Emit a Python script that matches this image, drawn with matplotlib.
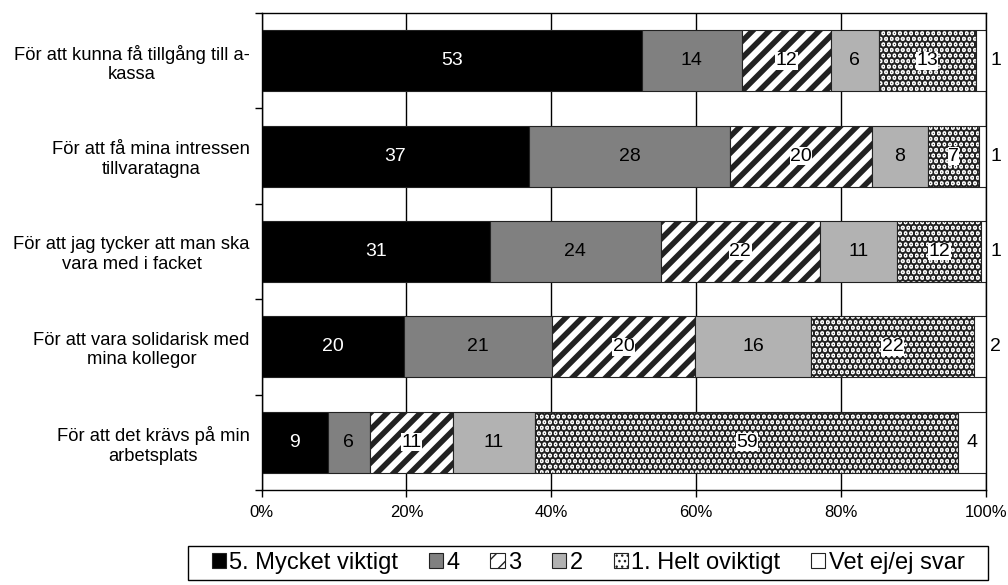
import matplotlib
matplotlib.use("Agg")
import matplotlib.pyplot as plt
from matplotlib.patches import Rectangle
import numpy as np

plt.rcParams["font.family"] = ["Liberation Sans", "DejaVu Sans"]

# kategorier, uppifrån och ned
categories = [
    "För att kunna få tillgång till a-\nkassa",
    "För att få mina intressen\ntillvaratagna",
    "För att jag tycker att man ska\nvara med i facket",
    "För att vara solidarisk med\nmina kollegor",
    "För att det krävs på min\narbetsplats",
]
series = ["5. Mycket viktigt", "4", "3", "2", "1. Helt oviktigt", "Vet ej/ej svar"]

# andelar (%), per svarsalternativ
mycket_viktigt = [52.5, 36.9, 31.5, 19.7, 9.1]
fyra = [13.8, 27.8, 23.6, 20.4, 5.8]
tre = [12.3, 19.6, 22.0, 19.8, 11.5]
tva = [6.6, 7.7, 10.7, 16.0, 11.4]
helt_oviktigt = [13.4, 7.1, 11.6, 22.5, 58.4]
vet_ej = [1.4, 0.9, 0.6, 1.7, 3.8]

# etiketter som visas i staplarna
labels = [
    [53, 37, 31, 20, 9],
    [14, 28, 24, 21, 6],
    [12, 20, 22, 20, 11],
    [6, 8, 11, 16, 11],
    [13, 7, 12, 22, 59],
    [1, 1, 1, 2, 4],
]

values = [mycket_viktigt, fyra, tre, tva, helt_oviktigt, vet_ej]
styles = [
    dict(color="#000000", hatch=None, txt="white", box=False),
    dict(color="#808080", hatch=None, txt="black", box=False),
    dict(color="white", hatch="//", txt="black", box=True, hlw=4.0),
    dict(color="#b2b2b2", hatch=None, txt="black", box=False),
    dict(color="white", hatch="...", txt="black", box=True, hlw=4.0),
    dict(color="white", hatch=None, txt="black", box=False),
]

fig = plt.figure(figsize=(10.08, 5.85), dpi=100)
ax = fig.add_axes([0.2596, 0.1624, 0.9779 - 0.2596, 0.9778 - 0.1624])

y = np.arange(len(categories))
left = np.zeros(len(categories))
ax.set_axisbelow(True)
ax.grid(axis="x", color="black", lw=1.0)

handles = []
for vals, st, labs, name in zip(values, styles, labels, series):
    vals = np.array(vals)
    with plt.rc_context({"hatch.linewidth": st.get("hlw", 1.0), "hatch.color": "black"}):
        bars = ax.barh(y, vals, left=left, height=0.64, color=st["color"],
                       edgecolor="#222222", linewidth=0.8, hatch=st["hatch"],
                       label=name, zorder=2)
    handles.append(bars)
    for yi, (l, v, lab) in enumerate(zip(left, vals, labs)):
        if v < 3:
            ax.text(100.6, yi, str(lab), ha="left", va="center", fontsize=14,
                    color=st["txt"], clip_on=False, zorder=4)
        else:
            bbox = dict(facecolor="white", edgecolor="none", pad=0.3) if st["box"] else None
            ax.text(l + v / 2, yi, str(lab), ha="center", va="center", fontsize=14,
                    color=st["txt"], bbox=bbox, zorder=4)
    left = left + vals

ax.set_xlim(0, 100)
ax.set_ylim(len(categories) - 0.5, -0.5)
ax.set_xticks(np.arange(0, 101, 20))
ax.set_xticklabels([f"{t}%" for t in range(0, 101, 20)], fontsize=12)
ax.set_yticks(y)
ax.set_yticklabels(categories, fontsize=13.2, multialignment="center")
ax.set_yticks(np.arange(-0.5, len(categories)), minor=True)
ax.tick_params(axis="y", which="major", length=0, pad=8.5)
ax.tick_params(axis="y", which="minor", length=5, direction="out", width=1)
ax.tick_params(axis="x", length=5, direction="out", width=1, pad=6)
for s in ax.spines.values():
    s.set_color("black")
    s.set_linewidth(1.0)

# legendram som i originalet, legenden centrerad i den
fig.patches.append(Rectangle((188 / 1008, 5 / 585), 800 / 1008, 34 / 585,
                             transform=fig.transFigure, fill=False,
                             edgecolor="black", lw=1.0))
fig.legend(handles, series, loc="center", bbox_to_anchor=(588 / 1008, 22 / 585),
           ncol=6, fontsize=17, frameon=False, handlelength=0.6,
           handleheight=0.6, handletextpad=0.15, columnspacing=1.3,
           borderpad=0, borderaxespad=0)

fig.savefig("out.png", dpi=100)
